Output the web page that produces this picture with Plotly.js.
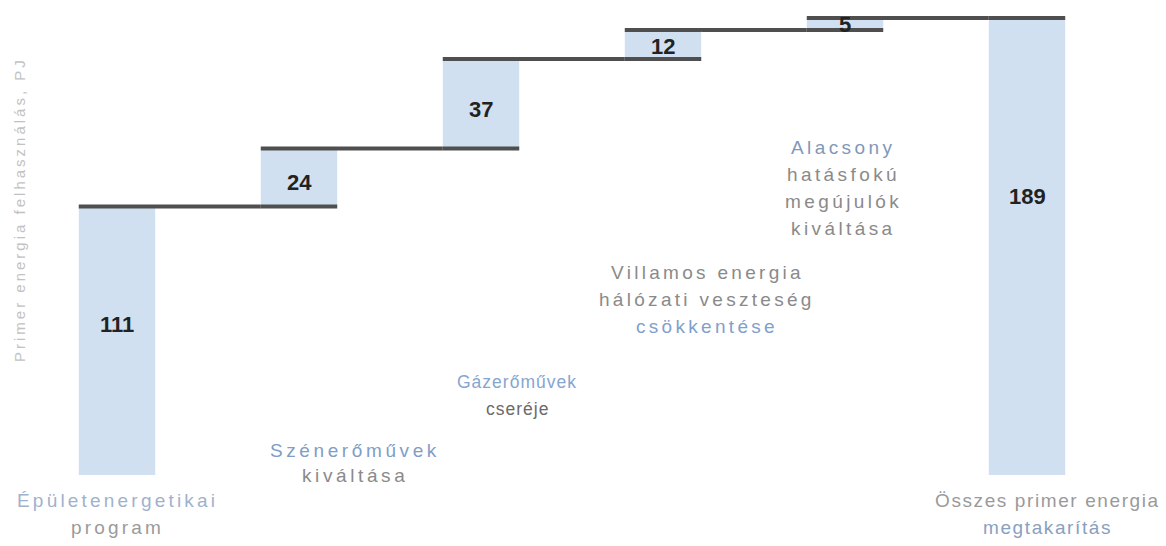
<!DOCTYPE html>
<html>
<head>
<meta charset="utf-8">
<script src="https://cdn.plot.ly/plotly-3.0.1.min.js"></script>
<style>
  html, body { margin: 0; padding: 0; background: #ffffff; }
  #chart { width: 1166px; height: 546px; }
</style>
</head>
<body>
<div id="chart"></div>
<script>
// Savings per measure (PJ) and the final total
const categoryLines = [
  ['Épületenergetikai', 'program'],
  ['Szénerőművek', 'kiváltása'],
  ['Gázerőművek', 'cseréje'],
  ['Villamos energia', 'hálózati veszteség', 'csökkentése'],
  ['Alacsony', 'hatásfokú', 'megújulók', 'kiváltása'],
  ['Összes primer energia', 'megtakarítás']
];
const categories = categoryLines.map(l => l.join(' '));
const savings = [111, 24, 37, 12, 5, 189];
const measures = ['relative', 'relative', 'relative', 'relative', 'relative', 'total'];
const yTitle = 'Primer energia felhasználás, PJ';

// Caption colours, one per line
const lineColors = [
  ['#9fb2cc', '#9a9a9a'],
  ['#7f9dc6', '#8a8a8a'],
  ['#86a5cf', '#6a6a6a'],
  ['#8a8a8a', '#8a8a8a', '#7fa0cc'],
  ['#7f98b8', '#8a8a8a', '#8a8a8a', '#8a8a8a'],
  ['#9a9a9a', '#8aa0c0']
];
// Caption layout in page pixels: centre x, first line y, line step, font size, letter spacing
const captionLayout = [
  [117, 500, 27, 19, 3.2],
  [355, 450, 25, 19, 3.6],
  [517, 382, 27, 17.5, 1.0],
  [707, 272, 27, 19, 3.3],
  [843, 147, 27, 19, 3.4],
  [1047, 500, 27, 19, 1.6]
];
// Where each value label sits, as a share of its bar's height from the bottom
const labelAt = [0.56, 0.42, 0.44, 0.45, 0.5, 0.61];

const barColor = '#d0e0f1';
const W = 1166, H = 546;
const M = { l: 26, r: 48, t: 10, b: 71 };
const plotW = W - M.l - M.r, plotH = H - M.t - M.b;
const toPaperX = px => (px - M.l) / plotW;
const toPaperY = py => (H - M.b - py) / plotH;

const trace = {
  type: 'waterfall',
  x: categories,
  y: savings,
  measure: measures,
  increasing: { marker: { color: barColor } },
  totals: { marker: { color: barColor } },
  connector: { mode: 'spanning', line: { color: '#4f4f4f', width: 4 } },
  hoverinfo: 'skip'
};

const annotations = [];

// Value labels inside the bars
let running = 0;
savings.forEach((v, i) => {
  const isTotal = measures[i] === 'total';
  const base = isTotal ? 0 : running;
  if (!isTotal) running += v;
  annotations.push({
    xref: 'x', yref: 'y',
    x: categories[i], y: base + v * labelAt[i],
    xanchor: 'center', yanchor: 'middle',
    showarrow: false,
    text: String(v),
    font: { family: 'Liberation Sans, Arial, sans-serif', size: 22, color: '#222222', weight: 'bold' }
  });
});

// Category captions, one annotation per line
categoryLines.forEach((lines, i) => {
  const [cx, y0, step, size, spacing] = captionLayout[i];
  lines.forEach((t, j) => {
    annotations.push({
      xref: 'paper', yref: 'paper',
      x: toPaperX(cx), y: toPaperY(y0 + j * step),
      xanchor: 'center', yanchor: 'middle',
      showarrow: false,
      text: '<span style="letter-spacing:' + spacing + 'px">' + t + '</span>',
      font: { family: 'Liberation Sans, Arial, sans-serif', size: size, color: lineColors[i][j] }
    });
  });
});

// Vertical axis caption
annotations.push({
  xref: 'paper', yref: 'paper',
  x: toPaperX(20), y: toPaperY(210),
  xanchor: 'center', yanchor: 'middle',
  showarrow: false,
  textangle: -90,
  text: '<span style="letter-spacing:3px">' + yTitle + '</span>',
  font: { family: 'Liberation Sans, Arial, sans-serif', size: 15, color: '#c2c2c2' }
});

const layout = {
  width: W,
  height: H,
  margin: M,
  paper_bgcolor: '#ffffff',
  plot_bgcolor: '#ffffff',
  showlegend: false,
  waterfallgap: 0.58,
  xaxis: {
    type: 'category',
    range: [-0.5, 5.5],
    showticklabels: false, showgrid: false, zeroline: false, showline: false, ticks: ''
  },
  yaxis: {
    range: [0, 192.3],
    showticklabels: false, showgrid: false, zeroline: false, showline: false, ticks: ''
  },
  annotations: annotations
};

Plotly.newPlot('chart', [trace], layout, { displayModeBar: false, staticPlot: true });
</script>
</body>
</html>
